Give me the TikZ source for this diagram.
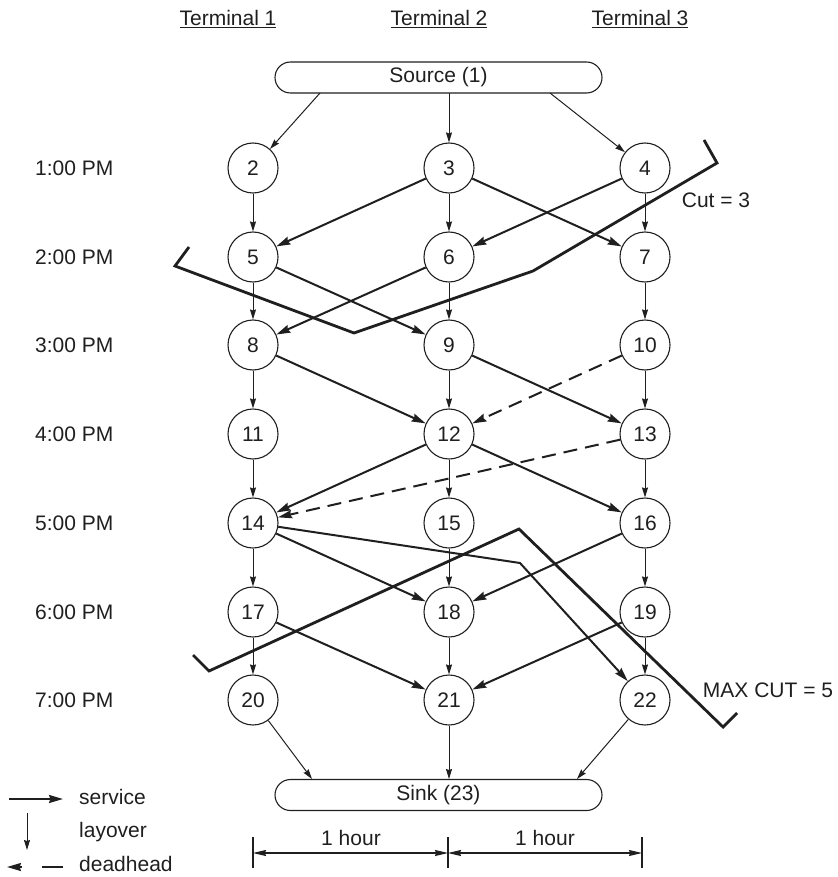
\documentclass[tikz,border=0pt]{standalone}
\usepackage{fontspec}
\setmainfont{Liberation Sans}
\usetikzlibrary{arrows.meta}
\definecolor{ink}{gray}{0.12}
\begin{document}
\begin{tikzpicture}[x=1pt,y=-1pt,
  every node/.style={font=\fontsize{21}{25}\selectfont, text=ink},
  stn/.style={circle, draw=ink, line width=1.1pt, minimum size=50pt, inner sep=0pt},
  term/.style={rectangle, draw=ink, line width=1.1pt, rounded corners=15.5pt, minimum width=327pt, minimum height=31pt, inner sep=0pt},
  lay/.style={draw=ink, line width=1pt, -{Stealth[length=10pt,width=6pt,inset=1pt]}},
  svc/.style={draw=ink, line width=2pt, -{Stealth[length=14pt,width=8pt,inset=1.5pt]}},
  dhd/.style={svc, dash pattern=on 14pt off 8pt},
  cutline/.style={draw=ink, line width=2.8pt, line join=miter},
  lbl/.style={anchor=west, inner sep=0pt},
  dimline/.style={draw=ink, line width=1.1pt},
  dimarrow/.style={draw=ink, line width=1.1pt, {Stealth[length=13pt,width=6pt,inset=1pt]}-{Stealth[length=13pt,width=6pt,inset=1pt]}}
]
\useasboundingbox (0,0) rectangle (837,877);

% terminal headings
\node (T1) at (228,19) {\underline{Terminal 1}};
\node (T2) at (439,19) {\underline{Terminal 2}};
\node (T3) at (640,19) {\underline{Terminal 3}};

% source and sink
\node[term] (src) at (438.5,77.5) {Source (1)};
\node[term] (snk) at (438.5,795) {Sink (23)};

% time labels
\node[lbl] (t1) at (35,168) {1:00 PM};
\node[lbl] (t2) at (35,257) {2:00 PM};
\node[lbl] (t3) at (35,345) {3:00 PM};
\node[lbl] (t4) at (35,434) {4:00 PM};
\node[lbl] (t5) at (35,523) {5:00 PM};
\node[lbl] (t6) at (35,612) {6:00 PM};
\node[lbl] (t7) at (35,700) {7:00 PM};

% station-time nodes
\node[stn] (n2) at (253,168) {2};
\node[stn] (n3) at (449,168) {3};
\node[stn] (n4) at (645,168) {4};
\node[stn] (n5) at (253,257) {5};
\node[stn] (n6) at (449,257) {6};
\node[stn] (n7) at (645,257) {7};
\node[stn] (n8) at (253,345) {8};
\node[stn] (n9) at (449,345) {9};
\node[stn] (n10) at (645,345) {10};
\node[stn] (n11) at (253,434) {11};
\node[stn] (n12) at (449,434) {12};
\node[stn] (n13) at (645,434) {13};
\node[stn] (n14) at (253,523) {14};
\node[stn] (n15) at (449,523) {15};
\node[stn] (n16) at (645,523) {16};
\node[stn] (n17) at (253,612) {17};
\node[stn] (n18) at (449,612) {18};
\node[stn] (n19) at (645,612) {19};
\node[stn] (n20) at (253,700) {20};
\node[stn] (n21) at (449,700) {21};
\node[stn] (n22) at (645,700) {22};

% attachment points on source / sink
\coordinate (s2) at (320,93);
\coordinate (s3) at (449,93);
\coordinate (s4) at (550,93);
\coordinate (k20) at (312,779);
\coordinate (k21) at (449,779);
\coordinate (k22) at (577,779);
\coordinate (bend) at (520,563);

% source / sink arcs
\draw[lay] (s2) -- (n2);
\draw[lay] (s3) -- (n3);
\draw[lay] (s4) -- (n4);
\draw[lay] (n20) -- (k20);
\draw[lay] (n21) -- (k21);
\draw[lay] (n22) -- (k22);

% layover arcs
\foreach \a/\b in {2/5,5/8,8/11,11/14,14/17,17/20,3/6,6/9,9/12,12/15,15/18,18/21,4/7,7/10,10/13,13/16,16/19,19/22}
  \draw[lay] (n\a) -- (n\b);

% service arcs
\foreach \a/\b in {3/5,3/7,4/6,5/9,6/8,8/12,9/13,12/14,12/16,14/18,16/18,17/21,19/21}
  \draw[svc] (n\a) -- (n\b);
\draw[svc] (n14) -- (bend) -- (n22);

% deadhead arcs
\draw[dhd] (n10) -- (n12);
\draw[dhd] (n13) -- (n14);

% cuts
\draw[cutline] (189,247) -- (175,266) -- (354,333) -- (533,271) -- (717,163) -- (704,140);
\draw[cutline] (193,655) -- (209,671) -- (519,529) -- (723,727) -- (737,713);
\node (c3) at (716,200) {Cut = 3};
\node (mc) at (768,690) {MAX CUT = 5};

% legend
\coordinate (ls1) at (9,799);
\coordinate (ls2) at (63,799);
\coordinate (ll1) at (27,813);
\coordinate (ll2) at (27,850);
\coordinate (ld0) at (63,867);
\coordinate (ld1) at (42,867);
\coordinate (ld2) at (22,867);
\coordinate (ld3) at (7,867);
\draw[svc] (ls1) -- (ls2);
\draw[lay] (ll1) -- (ll2);
\draw[draw=ink, line width=2pt] (ld0) -- (ld1);
\draw[svc] (ld2) -- (ld3);
\node[lbl] (lg1) at (79,797) {service};
\node[lbl] (lg2) at (79,832) {layover};
\node[lbl] (lg3) at (79,864) {deadhead};

% dimension
\coordinate (d1a) at (253,837); \coordinate (d1b) at (253,868);
\coordinate (d2a) at (448,837); \coordinate (d2b) at (448,868);
\coordinate (d3a) at (642,837); \coordinate (d3b) at (642,868);
\coordinate (m1) at (253,853); \coordinate (m2) at (448,853); \coordinate (m3) at (642,853);
\draw[dimline] (d1a) -- (d1b);
\draw[dimline] (d2a) -- (d2b);
\draw[dimline] (d3a) -- (d3b);
\draw[dimarrow] (m1) -- (m2);
\draw[dimarrow] (m2) -- (m3);
\node (h1) at (351,838) {1 hour};
\node (h2) at (545,838) {1 hour};
\end{tikzpicture}
\end{document}
